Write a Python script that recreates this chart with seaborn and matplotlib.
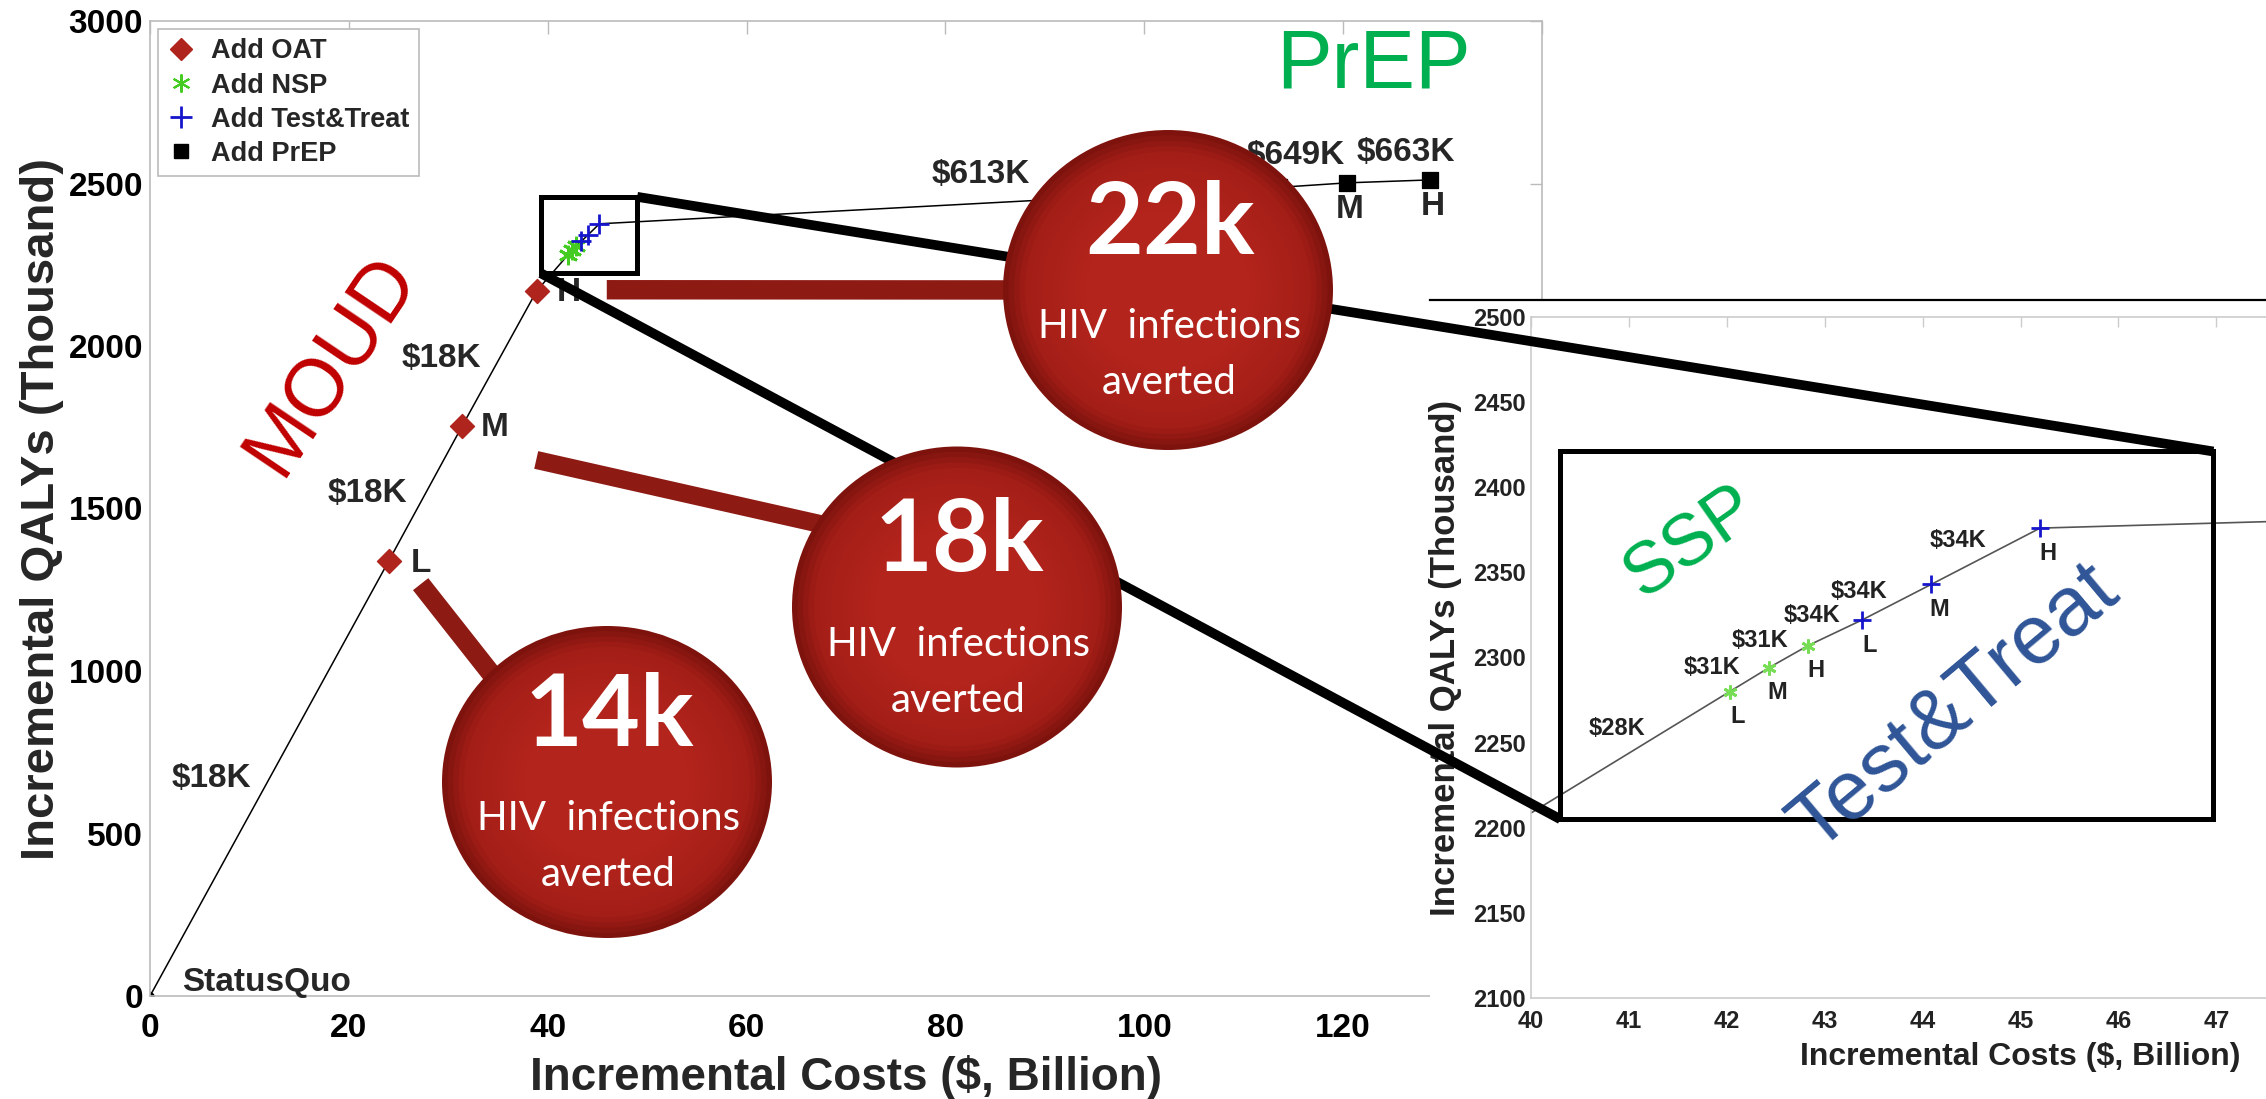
import matplotlib
matplotlib.use("Agg")
import matplotlib.pyplot as plt
from matplotlib.lines import Line2D
from matplotlib.patches import Rectangle, Ellipse
from matplotlib.colors import to_rgb
import seaborn as sns
import numpy as np

W, H = 2266, 1099

# frontier points: incremental cost ($ billion) / incremental QALYs (thousand)
sq_cost, sq_qaly = [0.0], [0.0]
oat_cost = [24.0, 31.4, 38.9]
oat_qaly = [1338, 1754, 2170]
nsp_cost = [42.03, 42.43, 42.83]
nsp_qaly = [2280, 2294, 2307]
tt_cost = [43.38, 44.09, 45.2]
tt_qaly = [2322, 2343, 2376]
prep_cost = [113.5, 120.4, 128.7]
prep_qaly = [2488, 2502, 2511]
levels = ["L", "M", "H"]

oat_icer = ["$18K", "$18K", "$18K"]
nsp_icer = ["$28K", "$31K", "$31K"]
tt_icer = ["$34K", "$34K", "$34K"]
prep_icer = ["$613K", "$649K", "$663K"]

averted = ["14k", "18k", "22k"]  # HIV infections averted, OAT L / M / H

RED = "#B0241E"
GREEN = "#44CC22"
BLUE = "#1515CC"
GRAY = "#BBBBBB"

cost = sq_cost + oat_cost + nsp_cost + tt_cost + prep_cost
qaly = sq_qaly + oat_qaly + nsp_qaly + tt_qaly + prep_qaly

sns.set_theme(style="white")
plt.rcParams["font.family"] = ["Liberation Sans", "DejaVu Sans"]

fig = plt.figure(figsize=(W / 100, H / 100), dpi=100)
fig.patch.set_facecolor("white")


def bold_ticks(a):
    for t in a.get_xticklabels() + a.get_yticklabels():
        t.set_fontweight("bold")


def mids(xs, ys, x0, y0):
    px_ = [x0] + xs[:-1]
    py_ = [y0] + ys[:-1]
    return [((a + b) / 2, (c + d) / 2) for a, b, c, d in zip(px_, xs, py_, ys)]


# ---------------- main axes ----------------
ax = fig.add_axes([150 / W, 1 - 996 / H, (1542 - 150) / W, (996 - 21) / H])
ax.set_zorder(1)
sns.lineplot(x=cost, y=qaly, sort=False, estimator=None, color="black", lw=1.1, ax=ax)
ax.plot(sq_cost, sq_qaly, "o", color="black", ms=5)
sns.scatterplot(x=oat_cost, y=oat_qaly, marker="D", s=150, color=RED, edgecolor=RED, ax=ax, zorder=3)
ax.plot(nsp_cost, nsp_qaly, ls="none", marker=(6, 2, 0), ms=14, mew=2, color=GREEN, zorder=3)
sns.scatterplot(x=tt_cost, y=tt_qaly, marker="+", s=200, color=BLUE, linewidth=2, ax=ax, zorder=3)
sns.scatterplot(x=prep_cost, y=prep_qaly, marker="s", s=130, color="black", edgecolor="black", ax=ax, zorder=3)

lab_kw = dict(textcoords="offset pixels", ha="center", va="center", fontsize=24, fontweight="bold")
for x, y, l in zip(oat_cost, oat_qaly, levels):
    ax.annotate(l, (x, y), xytext=(32, -2), **lab_kw)
for x, y, l in zip(prep_cost, prep_qaly, levels):
    ax.annotate(l, (x, y), xytext=(3, -27), **lab_kw)
for (mx, my), t in zip(mids(oat_cost, oat_qaly, 0, 0), oat_icer):
    ax.annotate(t, (mx, my), xytext=(-58, 0), **lab_kw)
prep_off = [(42, 31), (-17, 30), (17, 29)]
for (mx, my), t, o in zip(mids(prep_cost, prep_qaly, tt_cost[-1], tt_qaly[-1]), prep_icer, prep_off):
    ax.annotate(t, (mx, my), xytext=o, **lab_kw)
ax.annotate("StatusQuo", (0, 0), xytext=(32, 14), textcoords="offset pixels",
            ha="left", va="center", fontsize=24, fontweight="bold")

zoom_main = (39.3, 2224, 49.0, 2459)
ax.add_patch(Rectangle(zoom_main[:2], zoom_main[2] - zoom_main[0], zoom_main[3] - zoom_main[1],
                       fill=False, ec="black", lw=3.6, zorder=4))

ax.set_xlim(0, 140)
ax.set_ylim(0, 3000)
ax.set_xticks(range(0, 141, 20))
ax.set_yticks(range(0, 3001, 500))
ax.tick_params(direction="in", length=9, width=1, color=GRAY, top=True, right=True,
               labelsize=24, labelcolor="black")
ax.tick_params(axis="x", pad=12)
ax.tick_params(axis="y", pad=5)
bold_ticks(ax)
for s in ax.spines.values():
    s.set_color(GRAY)
    s.set_linewidth(1.2)
ax.set_xlabel("Incremental Costs ($, Billion)", fontsize=33, fontweight="bold", labelpad=8)
ax.set_ylabel("Incremental QALYs (Thousand)", fontsize=34, fontweight="bold", labelpad=3)

handles = [
    Line2D([], [], ls="none", marker="D", color=RED, ms=11, label="Add OAT"),
    Line2D([], [], ls="none", marker=(6, 2, 0), color=GREEN, ms=13, mew=1.5, label="Add NSP"),
    Line2D([], [], ls="none", marker="+", color=BLUE, ms=16, mew=2, label="Add Test&Treat"),
    Line2D([], [], ls="none", marker="s", color="black", ms=10, label="Add PrEP"),
]
leg = ax.legend(handles=handles, loc="upper left", bbox_to_anchor=(158 / W, 1 - 29 / H),
                bbox_transform=fig.transFigure, borderaxespad=0,
                prop={"size": 19.5, "weight": "bold"}, frameon=True, fancybox=False,
                edgecolor=GRAY, framealpha=1, handlelength=1.0, handletextpad=0.6,
                labelspacing=0.3, borderpad=0.35)
leg.get_frame().set_linewidth(1.2)

# ---------------- white panel behind the zoomed view ----------------
ax_panel = fig.add_axes([1430 / W, 0, (W - 1430) / W, (H - 300) / H])
ax_panel.set_zorder(2)
ax_panel.set_facecolor("white")
ax_panel.set_xticks([])
ax_panel.set_yticks([])
for k in ["left", "right", "bottom"]:
    ax_panel.spines[k].set_visible(False)
ax_panel.spines["top"].set_color("black")
ax_panel.spines["top"].set_linewidth(1.6)

# ---------------- zoomed axes ----------------
ax_in = fig.add_axes([1531 / W, 1 - 998 / H, (2510 - 1531) / W, (998 - 317) / H])
ax_in.set_zorder(3)
ax_in.set_facecolor("white")
sns.lineplot(x=cost, y=qaly, sort=False, estimator=None, color="#555555", lw=1.2, ax=ax_in)
ax_in.plot(nsp_cost, nsp_qaly, ls="none", marker=(6, 2, 0), ms=10, mew=2, color="#77DD55", zorder=3)
sns.scatterplot(x=tt_cost, y=tt_qaly, marker="+", s=150, color=BLUE, linewidth=2, ax=ax_in, zorder=3)

in_kw = dict(textcoords="offset pixels", ha="center", va="center", fontsize=17,
             fontweight="bold", color="#222222")
for xs, ys in [(nsp_cost, nsp_qaly), (tt_cost, tt_qaly)]:
    for x, y, l in zip(xs, ys, levels):
        ax_in.annotate(l, (x, y), xytext=(8, -25), **in_kw)
in_off = [(40, 57), (-37, 12), (-28, 16), (-23, 17), (-38, 11), (-28, 16)]
in_mids = mids(nsp_cost + tt_cost, nsp_qaly + tt_qaly, oat_cost[-1], oat_qaly[-1])
for (mx, my), t, o in zip(in_mids, nsp_icer + tt_icer, in_off):
    ax_in.annotate(t, (mx, my), xytext=o, **in_kw)

zoom_inset = (40.3, 2205, 46.97, 2421)
ax_in.add_patch(Rectangle(zoom_inset[:2], zoom_inset[2] - zoom_inset[0], zoom_inset[3] - zoom_inset[1],
                          fill=False, ec="black", lw=3.6, zorder=4))

ax_in.set_xlim(40, 50)
ax_in.set_ylim(2100, 2500)
ax_in.set_xticks(range(40, 48))
ax_in.set_yticks(range(2100, 2501, 50))
ax_in.tick_params(direction="in", length=7, width=1, color="#CCCCCC", top=True, right=True,
                  labelsize=17, labelcolor="#222222")
ax_in.tick_params(axis="x", pad=9)
ax_in.tick_params(axis="y", pad=4)
bold_ticks(ax_in)
for s in ax_in.spines.values():
    s.set_color("#CCCCCC")
    s.set_linewidth(1.2)
ax_in.set_xlabel("Incremental Costs ($, Billion)", fontsize=23, fontweight="bold",
                 color="#222222", labelpad=6)
ax_in.set_ylabel("Incremental QALYs (Thousand)", fontsize=25, fontweight="bold",
                 color="#222222", labelpad=8)

# ---------------- overlay: connectors, bubbles, headings ----------------
ax_top = fig.add_axes([0, 0, 1, 1])
ax_top.set_zorder(10)
ax_top.set_xlim(0, W)
ax_top.set_ylim(H, 0)
ax_top.axis("off")
ax_top.patch.set_alpha(0)


def px(a, x, y):
    d = a.transData.transform((x, y))
    return d[0], H - d[1]


p1 = px(ax, zoom_main[2], zoom_main[3])
q1 = px(ax_in, zoom_inset[2], zoom_inset[3])
p2 = px(ax, zoom_main[0], zoom_main[1])
q2 = px(ax_in, zoom_inset[0], zoom_inset[1])
for a, b in [(p1, q1), (p2, q2)]:
    ax_top.plot([a[0], b[0]], [a[1], b[1]], color="black", lw=7, solid_capstyle="butt", zorder=1)

bubble_xy = [(607, 782), (957, 607), (1168, 290)]
bubble_wh = [(330, 312), (330, 321), (330, 320)]
stem_off = [(32, 23), (74, 34), (70, -1)]
stem_end = [(545, 742), (900, 542), (1100, 290)]
stem_w = [14, 13, 14]

edge_c = np.array(to_rgb("#7E130E"))
mid_c = np.array(to_rgb("#A31E17"))
core_c = np.array(to_rgb("#B3241C"))

for (x, y), off, end, lw_ in zip(zip(oat_cost, oat_qaly), stem_off, stem_end, stem_w):
    sx, sy = px(ax, x, y)
    ax_top.plot([sx + off[0], end[0]], [sy + off[1], end[1]], color="#8E1A14", lw=lw_,
                solid_capstyle="butt", zorder=2)

for (cx, cy), (bw, bh), txt in zip(bubble_xy, bubble_wh, averted):
    n = 16
    for i in range(n):
        f = i / (n - 1)
        sc = 1 - 0.5 * f
        if f < 0.25:
            col = edge_c + (mid_c - edge_c) * f * 4
        else:
            col = mid_c + (core_c - mid_c) * (f - 0.25) / 0.75
        ax_top.add_patch(Ellipse((cx, cy), bw * sc, bh * sc, color=col, lw=0, zorder=3))
    ax_top.text(cx + 2, cy - 64, txt, ha="center", va="center", color="white", fontsize=72,
                fontweight="bold", family=["Lato", "DejaVu Sans"], zorder=4)
    ax_top.text(cx + 2, cy + 37, "HIV  infections", ha="center", va="center", color="white",
                fontsize=29, family=["Lato", "DejaVu Sans"], zorder=4)
    ax_top.text(cx + 1, cy + 93, "averted", ha="center", va="center", color="white",
                fontsize=29, family=["Lato", "DejaVu Sans"], zorder=4)

head_kw = dict(ha="center", va="center", rotation_mode="anchor", zorder=5)
ax_top.text(332, 365, "MOUD", rotation=56, color="#C00000", fontsize=58, **head_kw)
ax_top.text(1373, 65, "PrEP", rotation=0, color="#00B050", fontsize=60, **head_kw)
ax_top.text(1691, 542, "SSP", rotation=35, color="#00B050", fontsize=52, **head_kw)
ax_top.text(1954, 708, "Test&Treat", rotation=40, color="#2F5597", fontsize=60, **head_kw)

fig.savefig("out.png", dpi=100, facecolor="white")
